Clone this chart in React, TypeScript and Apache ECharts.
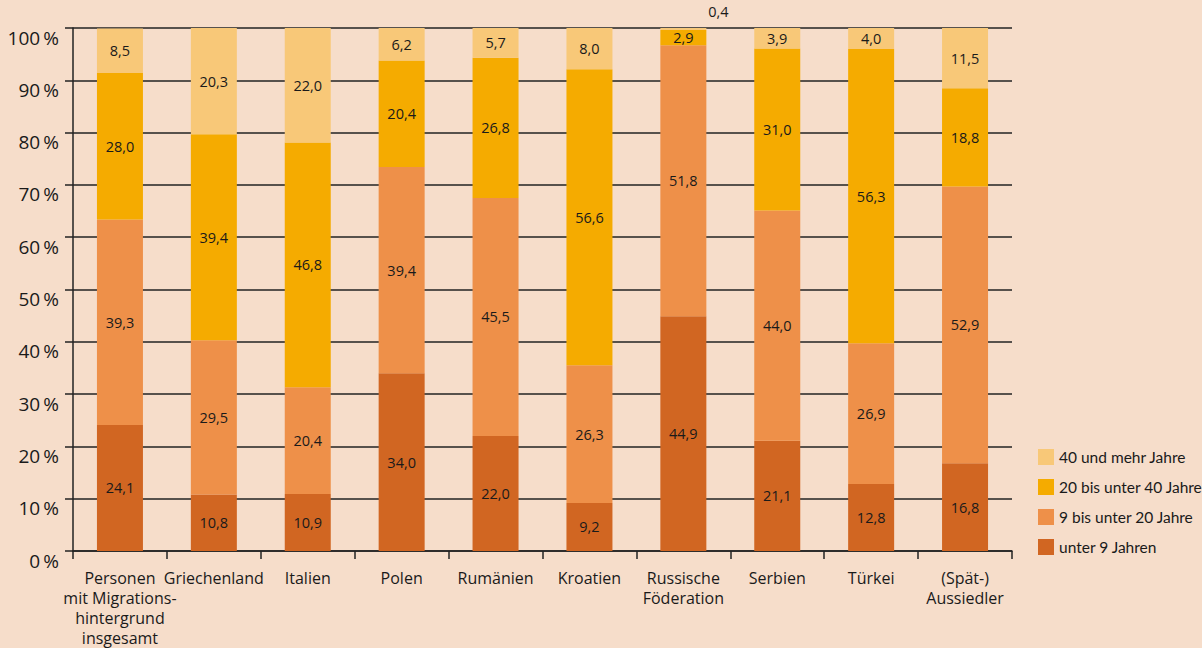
import React, { useEffect, useRef } from "react";
import * as echarts from "echarts";

const categories = [
  "Personen\nmit Migrations-\nhintergrund\ninsgesamt",
  "Griechenland",
  "Italien",
  "Polen",
  "Rumänien",
  "Kroatien",
  "Russische\nFöderation",
  "Serbien",
  "Türkei",
  "(Spät-)\nAussiedler",
];

const seriesNames = [
  "unter 9 Jahren",
  "9 bis unter 20 Jahre",
  "20 bis unter 40 Jahre",
  "40 und mehr Jahre",
];

const under9 = [24.1, 10.8, 10.9, 34.0, 22.0, 9.2, 44.9, 21.1, 12.8, 16.8];
const from9to20 = [39.3, 29.5, 20.4, 39.4, 45.5, 26.3, 51.8, 44.0, 26.9, 52.9];
const from20to40 = [28.0, 39.4, 46.8, 20.4, 26.8, 56.6, 2.9, 31.0, 56.3, 18.8];
const over40 = [8.5, 20.3, 22.0, 6.2, 5.7, 8.0, 0.4, 3.9, 4.0, 11.5];

const colors = ["#d16622", "#ee9049", "#f5ab00", "#f8c878"];
const yTicks = [0, 10, 20, 30, 40, 50, 60, 70, 80, 90, 100];

const FONT = "'Open Sans', 'Noto Sans', sans-serif";
const fmt = (v: number) => v.toFixed(1).replace(".", ",");

export default function App() {
  const ref = useRef<HTMLDivElement>(null);
  useEffect(() => {
    const chart = echarts.init(ref.current!, undefined, { renderer: "svg" });
    const allData = [under9, from9to20, from20to40, over40];
    const series = allData.map((arr, si) => ({
      name: seriesNames[si],
      type: "bar",
      stack: "total",
      barWidth: 46,
      itemStyle: { color: colors[si] },
      label: {
        show: true,
        position: "inside",
        color: "#1a1a1a",
        fontSize: 14.5,
        fontFamily: FONT,
        formatter: (p: any) => fmt(p.value),
      },
      data: arr.map((v) => {
        if (si === 3 && v < 1) {
          return {
            value: v,
            label: { position: "top", offset: [35, -4] },
          };
        }
        return v;
      }),
    }));
    chart.setOption({
      animation: false,
      backgroundColor: "#f6ddca",
      textStyle: { fontFamily: FONT },
      grid: { left: 73, right: 190, top: 28, bottom: 96, containLabel: false },
      legend: {
        data: [...seriesNames].reverse(),
        orient: "vertical",
        left: 1033,
        top: 444,
        itemWidth: 16,
        itemHeight: 16,
        itemGap: 14,
        icon: "rect",
        textStyle: { fontSize: 15.5, color: "#1a1a1a", fontFamily: "Lato, 'Open Sans', sans-serif" },
      },
      xAxis: {
        type: "category",
        data: categories,
        axisLine: { show: true, lineStyle: { color: "#222", width: 1.5 } },
        axisTick: { show: true, length: 8, lineStyle: { color: "#222", width: 1.5 } },
        axisLabel: {
          interval: 0,
          color: "#1a1a1a",
          fontSize: 16,
          lineHeight: 20,
          margin: 17,
          fontFamily: FONT,
        },
      },
      yAxis: {
        type: "value",
        min: 0,
        max: 100,
        interval: 10,
        axisLine: { show: true, lineStyle: { color: "#222", width: 1.5 } },
        axisTick: { show: true, length: 8, lineStyle: { color: "#222", width: 1.5 } },
        splitLine: { show: true, lineStyle: { color: "#222", width: 1.5 } },
        axisLabel: {
          color: "#1a1a1a",
          fontSize: 19,
          margin: 14,
          verticalAlign: "top",
          padding: [0, 0, 0, 0],
          fontFamily: FONT,
          formatter: (v: number) => (yTicks.includes(v) ? `${v}\u2009%` : ""),
        },
      },
      series,
    });
    return () => chart.dispose();
  }, []);
  return <div ref={ref} style={{ width: 1202, height: 648, position: "absolute", left: 0, top: 0 }} />;
}
